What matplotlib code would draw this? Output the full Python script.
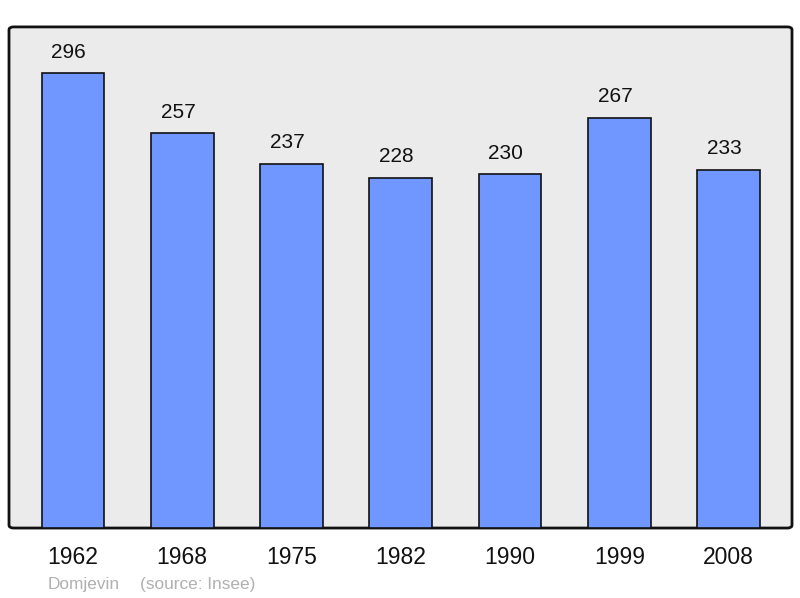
import matplotlib
matplotlib.use("Agg")
import matplotlib.pyplot as plt
from matplotlib.patches import FancyBboxPatch

years = ["1962", "1968", "1975", "1982", "1990", "1999", "2008"]
population = [296, 257, 237, 228, 230, 267, 233]
commune = "Domjevin"
source = "(source: Insee)"

plt.rcParams['font.family'] = ['Liberation Sans', 'DejaVu Sans']

fig = plt.figure(figsize=(8, 5.98), dpi=100)
ax = fig.add_axes([0.01125, 0.117, 0.97875, 0.838])
ax.set_facecolor('none')
for s in ax.spines.values():
    s.set_visible(False)

bg = FancyBboxPatch((0, 0), 1, 1, boxstyle="round,pad=0,rounding_size=0.006",
                    transform=ax.transAxes, facecolor='#ebebeb', edgecolor='#111111',
                    linewidth=2.0, zorder=0, clip_on=False)
ax.add_patch(bg)

x = list(range(len(years)))
bars = ax.bar(x, population, width=0.575, color='#7097ff', edgecolor='#111111',
              linewidth=1.2, zorder=2)
for xi, v in zip(x, population):
    ax.annotate(str(v), (xi, v), xytext=(-3, 8.2), textcoords='offset points',
                ha='center', va='bottom', fontsize=15, color='#111111')

ax.set_xlim(-0.585, 6.58)
ax.set_ylim(0, 326)
ax.set_yticks([])
ax.set_xticks(x)
ax.set_xticklabels(years, fontsize=16.5, color='#111111')
ax.tick_params(axis='x', length=0, pad=12.8)

fig.text(48/800, 1-584/598, commune, fontsize=12.4, color='#b0b0b0', va='center', ha='left')
fig.text(140/800, 1-584/598, source, fontsize=12.4, color='#b0b0b0', va='center', ha='left')

fig.savefig("out.png", dpi=100)
